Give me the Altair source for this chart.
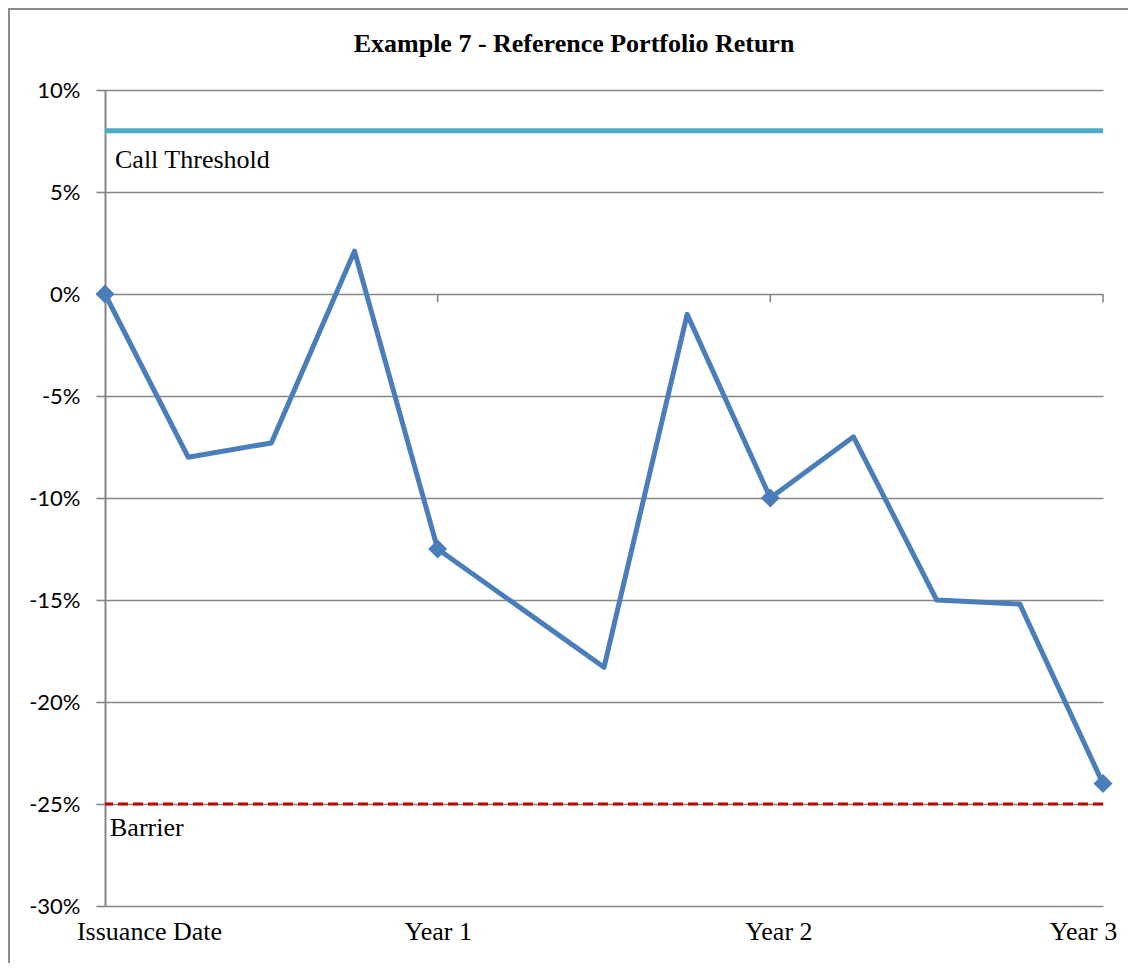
import json
import altair as alt
import pandas as pd

# ---- data ----
period_index = [0, 1, 2, 3, 4, 5, 6, 7, 8, 9, 10, 11, 12]
portfolio_return = [0.0, -8.0, -7.3, 2.1, -12.5, -15.4, -18.3, -1.0, -10.0, -7.0, -15.0, -15.2, -24.0]
year_index = [0, 4, 8, 12]
year_labels = ["Issuance Date", "Year 1", "Year 2", "Year 3"]
call_threshold = 8.0
barrier = -25.0
y_ticks = [10, 5, 0, -5, -10, -15, -20, -25, -30]
chart_title = "Example 7 - Reference Portfolio Return"

W, H = 998, 816
BLUE = "#4A7EBB"
GRID = "#868686"

df = pd.DataFrame({"t": period_index, "r": portfolio_return})
markers = df[df["t"].isin(year_index)]
levels = pd.DataFrame({
    "name": ["Call Threshold", "Barrier"],
    "level": [call_threshold, barrier],
    "t0": [0, 0],
})
yeart = pd.DataFrame({"t": year_index[1:], "y0": [0] * 3})

label_expr = json.dumps(year_labels) + "[datum.value / 4]"

x_scale = alt.Scale(domain=[0, 12], nice=False, zero=False)
y_scale = alt.Scale(domain=[-30, 10], nice=False, zero=False)

x_axis = alt.Axis(
    values=year_index, labelExpr=label_expr, title=None, grid=False,
    domain=False, ticks=False, labelPadding=12, labelFlush=False,
    labelFont="Liberation Serif", labelFontSize=26, labelColor="black",
    labelOffset={"condition": [
        {"test": "datum.value == 0", "value": 44},
        {"test": "datum.value == 8", "value": 8},
        {"test": "datum.value == 12", "value": -20},
    ], "value": 0},
)
y_axis = alt.Axis(
    values=y_ticks, labelExpr="datum.value + '%'", title=None,
    grid=True, gridColor=GRID, gridWidth=1.6,
    domain=True, domainColor=GRID, domainWidth=2,
    ticks=True, tickColor=GRID, tickSize=9, tickWidth=1.6,
    labelFont="Lato", labelFontSize=22, labelColor="black", labelPadding=16,
)

base = alt.Chart(df)

frame = alt.Chart(pd.DataFrame({"a": [0]})).mark_rect(
    fill="white", fillOpacity=0, stroke="#8c8c8c", strokeWidth=2
).encode(
    x=alt.value(-96), x2=alt.value(W + 300), y=alt.value(-81), y2=alt.value(H + 300)
)

title = alt.Chart(pd.DataFrame({"title": [chart_title]})).mark_text(
    align="center", baseline="alphabetic", font="Liberation Serif",
    fontSize=26, fontWeight="bold", color="black"
).encode(x=alt.value(W / 2 - 30), y=alt.value(-38), text="title:N")

line = base.mark_line(color=BLUE, strokeWidth=5, strokeJoin="round").encode(
    x=alt.X("t:Q", scale=x_scale, axis=x_axis),
    y=alt.Y("r:Q", scale=y_scale, axis=y_axis),
)

pts = alt.Chart(markers).mark_point(
    shape="diamond", filled=True, size=360, color=BLUE, opacity=1
).encode(x=alt.X("t:Q", scale=x_scale), y=alt.Y("r:Q", scale=y_scale))

zero_ticks = alt.Chart(yeart).mark_rule(color=GRID, strokeWidth=1.6).encode(
    x=alt.X("t:Q", scale=x_scale),
    y=alt.Y("y0:Q", scale=y_scale),
    y2=alt.Y2Datum(-0.4),
)

call_rule = alt.Chart(levels.iloc[[0]]).mark_rule(color="#4BACC6", strokeWidth=5).encode(
    y=alt.Y("level:Q", scale=y_scale)
)
barrier_rule = alt.Chart(levels.iloc[[1]]).mark_rule(
    color="#C00000", strokeWidth=3, strokeDash=[10, 5]
).encode(y=alt.Y("level:Q", scale=y_scale))

call_text = alt.Chart(levels.iloc[[0]]).mark_text(
    align="left", baseline="alphabetic", dx=10, dy=37,
    font="Liberation Serif", fontSize=26, color="black"
).encode(x=alt.X("t0:Q", scale=x_scale), y=alt.Y("level:Q", scale=y_scale), text="name:N")

barrier_text = alt.Chart(levels.iloc[[1]]).mark_text(
    align="left", baseline="alphabetic", dx=5, dy=32,
    font="Liberation Serif", fontSize=26, color="black"
).encode(x=alt.X("t0:Q", scale=x_scale), y=alt.Y("level:Q", scale=y_scale), text="name:N")

chart = alt.layer(
    frame, title, zero_ticks, call_rule, barrier_rule, line, pts, call_text, barrier_text
).properties(
    width=W, height=H,
    background="white",
    autosize=alt.AutoSizeParams(type="none"),
    padding={"left": 97, "top": 82, "right": 25, "bottom": 57},
).configure_view(stroke="transparent", strokeWidth=0)

chart.save("out.html", embed_options={"renderer": "svg", "actions": False})
